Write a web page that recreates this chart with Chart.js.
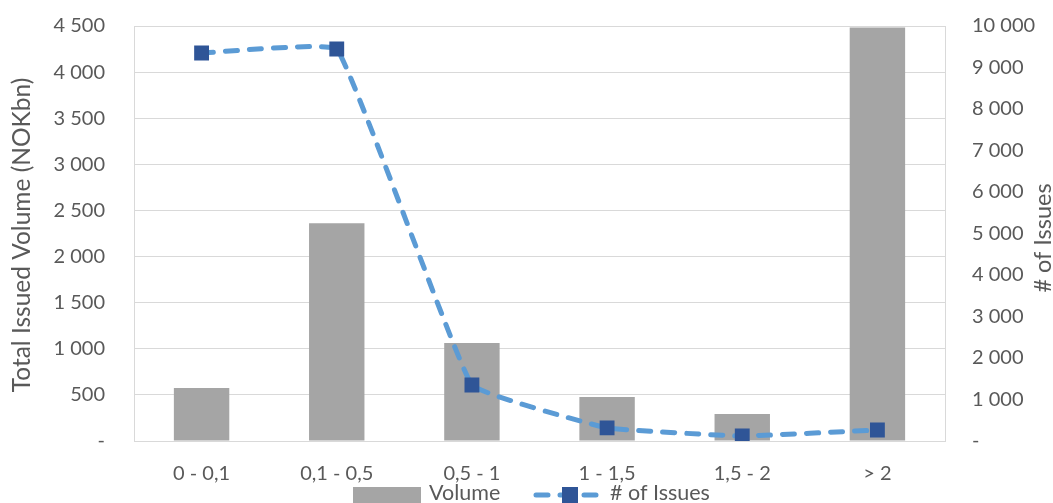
<!DOCTYPE html>
<html>
<head>
<meta charset="utf-8">
<script src="https://cdn.jsdelivr.net/npm/chart.js@4/dist/chart.umd.min.js"></script>
<style>
  html, body { margin: 0; padding: 0; background: #fff; }
  #wrap { width: 1053px; height: 503px; position: relative; }
</style>
</head>
<body>
<div id="wrap"><canvas id="combo"></canvas></div>
<script>
var categories = ["0 - 0,1", "0,1 - 0,5", "0,5 - 1", "1 - 1,5", "1,5 - 2", "> 2"];
var volume = [575, 2360, 1063, 478, 292, 4485];
var issues = [9350, 9445, 1350, 315, 120, 265];

var FONT = "Lato, 'Open Sans', sans-serif";
var TEXT = "#595959";

function fmt(v) {
    if (v === 0) return "-";
    return String(v).replace(/\B(?=(\d{3})+(?!\d))/g, " ");
}

// legend and axis titles drawn by hand so they look like the Excel ones
var extrasPlugin = {
    id: "extras",
    afterDraw: function(chart) {
        var ctx = chart.ctx;
        var y = 495;
        ctx.save();
        ctx.fillStyle = "#a5a5a5";
        ctx.fillRect(353, y - 8, 68, 17);
        ctx.font = "21.5px " + FONT;
        ctx.fillStyle = TEXT;
        ctx.textBaseline = "middle";
        ctx.fillText("Volume", 429, y - 2);
        ctx.strokeStyle = "#5b9bd5";
        ctx.lineWidth = 5;
        ctx.lineCap = "round";
        ctx.beginPath();
        ctx.moveTo(536, y); ctx.lineTo(548, y);
        ctx.moveTo(560, y); ctx.lineTo(562, y);
        ctx.moveTo(584, y); ctx.lineTo(596, y);
        ctx.stroke();
        ctx.fillStyle = "#2f5597";
        ctx.fillRect(562, y - 8, 16, 16);
        ctx.fillStyle = TEXT;
        ctx.fillText("# of Issues", 610, y - 2);

        ctx.textAlign = "center";
        ctx.save();
        ctx.font = "24.5px " + FONT;
        ctx.translate(22, 235);
        ctx.rotate(-Math.PI / 2);
        ctx.fillText("Total Issued Volume (NOKbn)", 0, 0);
        ctx.restore();
        ctx.save();
        ctx.font = "23.5px " + FONT;
        ctx.translate(1043, 238);
        ctx.rotate(-Math.PI / 2);
        ctx.fillText("# of Issues", 0, 0);
        ctx.restore();
        ctx.restore();
    }
};

window.onload = function() {
    var ctx = document.getElementById("combo").getContext("2d");
    var chart = new Chart(ctx, {
        type: "bar",
        data: {
            labels: categories,
            datasets: [{
                type: "line",
                label: "# of Issues",
                data: issues,
                yAxisID: "y1",
                borderColor: "#5b9bd5",
                borderWidth: 5,
                borderDash: [12, 12],
                borderCapStyle: "round",
                tension: 0.08,
                pointStyle: "rect",
                pointRadius: 10.5,
                pointBackgroundColor: "#2f5597",
                pointBorderColor: "#2f5597",
                pointBorderWidth: 0,
                order: 0
            }, {
                label: "Volume",
                data: volume,
                yAxisID: "y",
                backgroundColor: "#a5a5a5",
                barPercentage: 0.41,
                categoryPercentage: 1,
                order: 1
            }]
        },
        options: {
            responsive: true,
            maintainAspectRatio: false,
            animation: false,
            layout: { padding: { top: 26, left: 0, right: 0, bottom: 0 } },
            plugins: {
                legend: { display: false },
                tooltip: { enabled: false }
            },
            scales: {
                x: {
                    grid: { display: false },
                    border: { display: false },
                    ticks: { color: TEXT, font: { family: FONT, size: 20 }, padding: 13, maxRotation: 0 },
                    afterFit: function(s) { s.height = 62; }
                },
                y: {
                    position: "left",
                    min: 0, max: 4500,
                    ticks: { stepSize: 500, color: TEXT, font: { family: FONT, size: 20 }, padding: 29, callback: function(v) { return fmt(v); } },
                    grid: { color: "#d9d9d9", lineWidth: 1, drawTicks: false },
                    border: { display: true, color: "#d9d9d9" },
                    afterFit: function(s) { s.width = 134; s.paddingTop = 0; s.paddingBottom = 0; }
                },
                y1: {
                    position: "right",
                    min: 0, max: 10000,
                    ticks: { stepSize: 1000, color: TEXT, font: { family: FONT, size: 20 }, padding: 27, callback: function(v) { return fmt(v); } },
                    grid: { display: false, drawTicks: false },
                    border: { display: true, color: "#d9d9d9" },
                    afterFit: function(s) { s.width = 108; s.paddingTop = 0; s.paddingBottom = 0; }
                }
            }
        },
        plugins: [extrasPlugin]
    });
    console.log(chart.chartArea);
};
</script>
</body>
</html>
